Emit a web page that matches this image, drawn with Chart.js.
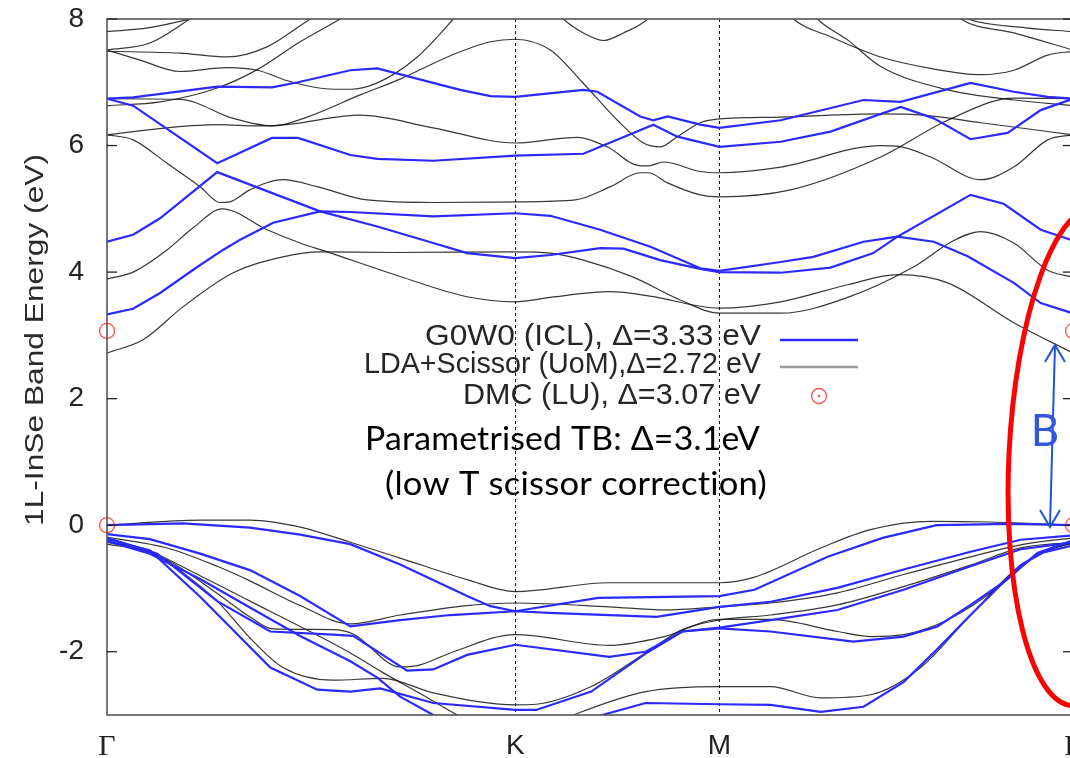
<!DOCTYPE html>
<html><head><meta charset="utf-8">
<script src="https://cdn.jsdelivr.net/npm/chart.js@4"></script>
<style>html,body{margin:0;padding:0;background:#fff;overflow:hidden;width:1070px;height:758px}canvas{display:block}</style>
</head><body><canvas id="c" width="1085" height="758"></canvas>
<script>
// ---- axis ----
const xTickVals = [0, 1, 1.5, 2.366];
const xTickLabels = ['Γ', 'K', 'M', 'Γ'];
const yTicks = [-2, 0, 2, 4, 6, 8];

// ---- LDA + scissor (UoM) bands : [k, E] ----
const ldaC1 = [[0,2.72],[0.088,2.93],[0.186,3.45],[0.309,3.99],[0.431,4.24],[0.522,4.32],[0.70,4.31],[1.0,4.32],[1.086,4.30],[1.167,4.19],[1.289,3.92],[1.404,3.56],[1.5,3.35],[1.65,3.35],[1.814,3.6],[1.975,4.08],[2.074,4.5],[2.140,4.64],[2.221,4.46],[2.304,4.03],[2.366,3.92]];
const ldaC2 = [[0,3.89],[0.064,4.0],[0.147,4.35],[0.211,4.7],[0.282,5.0],[0.392,4.67],[0.473,4.46],[0.539,4.32],[0.718,3.93],[0.882,3.61],[1.0,3.53],[1.086,3.6],[1.233,3.69],[1.33,3.62],[1.5,3.43],[1.65,3.53],[1.814,3.8],[1.936,3.96],[2.059,3.83],[2.221,3.2],[2.366,2.72]];
const ldaC3 = [[0,6.17],[0.064,6.09],[0.147,5.72],[0.228,5.35],[0.277,5.1],[0.301,5.11],[0.35,5.3],[0.431,5.46],[0.515,5.35],[0.637,5.14],[0.799,5.1],[1.0,5.11],[1.147,5.14],[1.233,5.35],[1.306,5.57],[1.326,5.57],[1.373,5.41],[1.453,5.22],[1.5,5.19],[1.674,5.3],[1.895,5.82],[2.059,6.4],[2.221,6.75],[2.366,6.74]];
const ldaC4 = [[0,6.17],[0.147,6.28],[0.27,6.33],[0.375,6.31],[0.441,6.33],[0.62,6.48],[0.799,6.28],[1.0,6.04],[1.152,6.13],[1.225,5.98],[1.306,5.68],[1.326,5.68],[1.363,5.74],[1.453,5.59],[1.5,5.57],[1.65,5.66],[1.895,6.0],[1.936,5.99],[2.017,5.82],[2.140,5.46],[2.221,5.66],[2.304,6.09],[2.366,6.17]];
const ldaC5 = [[0,6.74],[0.179,6.73],[0.309,6.43],[0.407,6.31],[0.49,6.45],[0.62,6.8],[0.718,7.05],[0.841,7.42],[0.939,7.64],[1.0,7.68],[1.086,7.51],[1.167,6.98],[1.25,6.4],[1.314,6.04],[1.355,5.98],[1.397,6.14],[1.453,6.36],[1.5,6.42],[1.65,6.45],[1.895,6.5],[2.0,6.48],[2.140,6.36],[2.366,6.17]];
const ldaC6a = [[0,6.63],[0.13,6.69],[0.27,6.91],[0.368,7.2],[0.473,7.64],[0.571,8.0],[0.62,8.2]];
const ldaC6b = [[1.71,8.25],[1.740,8.0],[1.814,7.67],[1.895,7.25],[2.059,6.88],[2.221,6.72],[2.366,6.63]];
const ldaC7 = [[0,7.51],[0.081,7.35],[0.179,7.17],[0.294,7.23],[0.368,7.19],[0.449,7.01],[0.554,6.89],[0.596,6.89],[0.662,6.99],[0.76,7.4],[0.848,8.0],[0.9,8.4]];
const ldaC8 = [[0,7.49],[0.179,7.46],[0.294,7.40],[0.392,7.56],[0.498,8.0],[0.55,8.2]];
const ldaC9 = [[0,7.80],[0.1,7.86],[0.203,8.0],[0.25,8.08]];
const ldaC10 = [[0,7.51],[0.105,7.62],[0.203,8.0],[0.25,8.2]];
const ldaC11 = [[1.08,8.3],[1.118,8.0],[1.167,7.78],[1.216,7.66],[1.265,7.78],[1.324,8.0],[1.36,8.3]];
const ldaC12 = [[1.65,8.25],[1.681,8.0],[1.772,7.72],[1.895,7.40],[2.017,7.22],[2.140,7.12],[2.221,7.19],[2.304,7.43],[2.366,7.49]];
const ldaC13 = [[2.06,8.2],[2.091,8.0],[2.221,7.78],[2.366,7.51]];
const ldaC14 = [[2.08,8.1],[2.108,8.0],[2.25,7.86],[2.366,7.80]];
const ldaV1 = [[0,0],[0.228,0.08],[0.35,0.08],[0.473,-0.03],[0.596,-0.27],[0.718,-0.52],[0.882,-0.86],[1.0,-1.05],[1.23,-0.91],[1.5,-0.91],[1.586,-0.82],[1.748,-0.36],[1.87,-0.07],[2.017,0.06],[2.164,0.05],[2.366,0]];
const ldaV2 = [[0,-0.19],[0.147,-0.36],[0.27,-0.65],[0.35,-0.88],[0.473,-1.27],[0.596,-1.56],[0.718,-1.42],[0.882,-1.27],[1.0,-1.23],[1.23,-1.29],[1.365,-1.34],[1.5,-1.29],[1.625,-1.23],[1.789,-1.07],[1.951,-0.78],[2.115,-0.5],[2.238,-0.31],[2.366,-0.2]];
const ldaV3 = [[0,-0.24],[0.147,-0.55],[0.27,-1.08],[0.35,-1.45],[0.407,-1.64],[0.554,-1.65],[0.603,-1.72],[0.718,-2.24],[0.76,-2.22],[0.841,-2.02],[1.0,-1.73],[1.23,-1.9],[1.365,-1.76],[1.5,-1.49],[1.625,-1.49],[1.789,-1.68],[1.87,-1.76],[1.951,-1.73],[2.034,-1.57],[2.115,-1.29],[2.196,-0.91],[2.279,-0.47],[2.366,-0.28]];
const ldaV4 = [[0,-0.27],[0.105,-0.4],[0.186,-0.75],[0.27,-1.2],[0.35,-1.78],[0.431,-2.25],[0.554,-2.45],[0.676,-2.42],[0.799,-2.65],[1.0,-2.84],[1.051,-2.83],[1.186,-2.55],[1.319,-2.02],[1.409,-1.65],[1.5,-1.5],[1.625,-1.42],[1.789,-1.26],[1.951,-0.97],[2.115,-0.63],[2.238,-0.36],[2.366,-0.27]];
const ldaV5 = [[0,-0.3],[0.105,-0.42],[0.228,-0.8],[0.35,-1.2],[0.473,-1.6],[0.596,-2.02],[0.676,-2.33],[0.767,-2.66],[0.858,-3.0],[1.0,-3.4],[1.142,-3.0],[1.319,-2.63],[1.5,-2.55],[1.625,-2.55],[1.748,-2.73],[1.870,-2.68],[1.993,-2.25],[2.115,-1.42],[2.238,-0.63],[2.319,-0.36],[2.366,-0.28]];

// ---- G0W0 (ICL) bands : [k, E] ----
const gwC1 = [[0,6.74],[0.064,6.76],[0.27,6.93],[0.404,6.92],[0.468,7.0],[0.596,7.19],[0.662,7.22],[0.865,6.88],[0.939,6.78],[1.0,6.77],[1.167,6.88],[1.201,6.85],[1.306,6.46],[1.338,6.40],[1.373,6.46],[1.453,6.33],[1.5,6.28],[1.65,6.40],[1.853,6.72],[1.944,6.69],[2.115,6.99],[2.221,6.85],[2.304,6.77],[2.366,6.74]];
const gwC2 = [[0,6.74],[0.064,6.63],[0.27,5.72],[0.404,6.12],[0.468,6.12],[0.596,5.85],[0.662,5.79],[0.799,5.76],[1.0,5.84],[1.167,5.87],[1.208,5.98],[1.338,6.33],[1.397,6.14],[1.5,5.98],[1.65,6.06],[1.772,6.22],[1.944,6.61],[2.025,6.43],[2.115,6.10],[2.206,6.2],[2.287,6.56],[2.366,6.74]];
const gwC3 = [[0,4.48],[0.064,4.59],[0.13,4.85],[0.27,5.58],[0.522,4.96],[0.662,4.72],[0.799,4.46],[0.882,4.30],[1.0,4.22],[1.086,4.27],[1.208,4.38],[1.265,4.37],[1.355,4.19],[1.453,4.05],[1.5,4.0],[1.65,3.99],[1.772,4.07],[1.877,4.3],[1.936,4.56],[2.025,4.48],[2.108,4.25],[2.221,3.83],[2.287,3.51],[2.36,3.36],[2.366,3.33]];
const gwC4 = [[0,3.33],[0.064,3.42],[0.13,3.67],[0.221,4.08],[0.284,4.35],[0.326,4.51],[0.407,4.78],[0.522,4.96],[0.596,4.95],[0.799,4.88],[1.0,4.93],[1.086,4.89],[1.208,4.67],[1.331,4.40],[1.453,4.06],[1.5,4.02],[1.65,4.16],[1.730,4.24],[1.853,4.48],[1.936,4.56],[2.115,5.22],[2.196,5.08],[2.287,4.67],[2.36,4.51],[2.366,4.48]];
const gwV1 = [[0,0],[0.186,0.03],[0.35,-0.04],[0.473,-0.15],[0.596,-0.3],[0.718,-0.62],[0.882,-1.12],[0.939,-1.28],[1.0,-1.36],[1.203,-1.15],[1.5,-1.12],[1.586,-1.02],[1.765,-0.5],[1.9,-0.2],[2.032,0],[2.211,0.02],[2.366,0]];
const gwV2 = [[0,-0.14],[0.105,-0.22],[0.228,-0.45],[0.35,-0.71],[0.473,-1.12],[0.596,-1.6],[0.718,-1.5],[0.841,-1.42],[1.0,-1.36],[1.098,-1.39],[1.346,-1.45],[1.5,-1.29],[1.625,-1.21],[1.789,-0.99],[1.951,-0.7],[2.115,-0.42],[2.238,-0.23],[2.366,-0.16]];
const gwV3 = [[0,-0.2],[0.123,-0.45],[0.27,-1.2],[0.4,-1.68],[0.554,-1.73],[0.603,-1.75],[0.735,-2.3],[0.799,-2.28],[0.882,-2.05],[1.0,-1.89],[1.23,-2.08],[1.319,-2.0],[1.409,-1.68],[1.5,-1.63],[1.625,-1.68],[1.828,-1.84],[1.951,-1.76],[2.034,-1.6],[2.115,-1.26],[2.196,-0.9],[2.279,-0.44],[2.366,-0.24]];
const gwV4 = [[0,-0.22],[0.105,-0.4],[0.228,-1.13],[0.4,-2.25],[0.515,-2.6],[0.596,-2.63],[0.669,-2.58],[0.799,-2.81],[1.0,-2.92],[1.051,-2.92],[1.186,-2.63],[1.319,-2.03],[1.409,-1.68],[1.5,-1.62],[1.625,-1.5],[1.789,-1.34],[1.951,-1.02],[2.115,-0.65],[2.238,-0.38],[2.366,-0.27]];
const gwV5 = [[0,-0.25],[0.105,-0.45],[0.228,-0.85],[0.35,-1.3],[0.473,-1.75],[0.596,-2.15],[0.662,-2.41],[0.718,-2.71],[0.799,-3.0],[1.0,-3.5],[1.213,-3.0],[1.319,-2.81],[1.5,-2.83],[1.625,-2.84],[1.748,-2.95],[1.853,-2.87],[1.951,-2.48],[2.032,-1.97],[2.115,-1.42],[2.238,-0.63],[2.294,-0.43],[2.366,-0.32]];

// ---- DMC (LU) points ----
const dmcK = [0, 0, 2.366, 2.366];
const dmcE = [3.07, 0, 3.07, 0];

// ---- legend / annotation texts ----
const legendTexts = ['G0W0 (ICL), Δ=3.33 eV', 'LDA+Scissor (UoM),Δ=2.72 eV', 'DMC (LU), Δ=3.07 eV'];
const noteLines = ['Parametrised TB: Δ=3.1eV', '(low T scissor correction)'];
const yTitle = '1L-InSe Band Energy (eV)';

const GW_COLOR = '#2a2aff', LDA_COLOR = 'rgba(20,20,20,0.85)', DMC_COLOR = '#ff5050';
const toXY = a => a.map(p => ({x: p[0], y: p[1]}));
const ldaBands = [ldaC1, ldaC2, ldaC3, ldaC4, ldaC5, ldaC6a, ldaC6b, ldaC7, ldaC8, ldaC9, ldaC10, ldaC11, ldaC12, ldaC13, ldaC14, ldaV1, ldaV2, ldaV3, ldaV4, ldaV5];
const gwBands = [gwC1, gwC2, gwC3, gwC4, gwV1, gwV2, gwV3, gwV4, gwV5];

const datasets = [];
datasets.push({data: dmcK.map((k, i) => ({x: k, y: dmcE[i]})), showLine: false, pointRadius: 7.5, pointBorderColor: DMC_COLOR, pointBackgroundColor: 'rgba(0,0,0,0)', pointBorderWidth: 1.3, order: 0, clip: false});
gwBands.forEach(b => datasets.push({data: toXY(b), borderColor: GW_COLOR, borderWidth: 2.2, tension: 0, pointRadius: 0, order: 1}));
ldaBands.forEach(b => datasets.push({data: toXY(b), borderColor: LDA_COLOR, borderWidth: 1.2, cubicInterpolationMode: 'monotone', pointRadius: 0, order: 2}));

function fitText(ctx, text, x, y, w, align) {
  const m = ctx.measureText(text).width;
  ctx.save();
  ctx.translate(align === 'right' ? x - w : x, y);
  ctx.scale(w / m, 1);
  ctx.textAlign = 'left';
  ctx.fillText(text, 0, 0);
  ctx.restore();
}

const decor = {
  id: 'decor',
  beforeDatasetsDraw(chart) {
    const {ctx, chartArea: a, scales: {x}} = chart;
    ctx.save();
    ctx.strokeStyle = '#111'; ctx.lineWidth = 1; ctx.setLineDash([3, 3]);
    [1, 1.5].forEach(v => {
      const px = Math.round(x.getPixelForValue(v)) + 0.5;
      ctx.beginPath(); ctx.moveTo(px, a.top); ctx.lineTo(px, a.bottom); ctx.stroke();
    });
    ctx.restore();
  },
  afterDatasetsDraw(chart) {
    const {ctx, chartArea: a, scales: {y}} = chart;
    ctx.save();
    ctx.strokeStyle = '#555'; ctx.lineWidth = 1.6;
    ctx.strokeRect(a.left, a.top, a.right - a.left, a.bottom - a.top);
    ctx.strokeStyle = '#222'; ctx.lineWidth = 1.3;
    yTicks.forEach(v => {
      const py = y.getPixelForValue(v);
      ctx.beginPath(); ctx.moveTo(a.left, py); ctx.lineTo(a.left + 10, py); ctx.stroke();
      ctx.beginPath(); ctx.moveTo(a.right, py); ctx.lineTo(a.right - 10, py); ctx.stroke();
    });
    ctx.fillStyle = '#2a2a2a';
    ctx.font = '26px "Liberation Sans", Arial, sans-serif';
    ctx.textBaseline = 'middle';
    ctx.save(); ctx.translate(36, 340); ctx.rotate(-Math.PI / 2);
    fitText(ctx, yTitle, -186, 0, 372, 'left');
    ctx.restore();
    ctx.font = '29px "Liberation Sans", Arial, sans-serif';
    ctx.fillStyle = '#262626';
    const rows = [337, 365, 396];
    const widths = [336, 397, 298];
    legendTexts.forEach((t, i) => fitText(ctx, t, 761, rows[i], widths[i], 'right'));
    ctx.lineWidth = 2.5;
    ctx.strokeStyle = GW_COLOR; ctx.beginPath(); ctx.moveTo(780, 340); ctx.lineTo(858, 340); ctx.stroke();
    ctx.strokeStyle = '#9a9a9a'; ctx.beginPath(); ctx.moveTo(780, 367); ctx.lineTo(858, 367); ctx.stroke();
    ctx.strokeStyle = DMC_COLOR; ctx.lineWidth = 1.3;
    ctx.beginPath(); ctx.arc(819, 396, 7.5, 0, Math.PI * 2); ctx.stroke();
    ctx.fillStyle = DMC_COLOR; ctx.beginPath(); ctx.arc(819, 396, 1.3, 0, Math.PI * 2); ctx.fill();
    ctx.fillStyle = '#000';
    ctx.font = '32px Lato, "Open Sans", sans-serif';
    if ('letterSpacing' in ctx) ctx.letterSpacing = '0.2px';
    fitText(ctx, noteLines[0], 365, 440, 395, 'left');
    fitText(ctx, noteLines[1], 385, 485, 382, 'left');
    if ('letterSpacing' in ctx) ctx.letterSpacing = '0px';
    ctx.strokeStyle = '#1e55d6'; ctx.lineWidth = 2;
    ctx.beginPath(); ctx.moveTo(1055, 345); ctx.lineTo(1050, 527); ctx.stroke();
    ctx.beginPath(); ctx.moveTo(1045, 362); ctx.lineTo(1055, 345); ctx.lineTo(1065, 362); ctx.stroke();
    ctx.beginPath(); ctx.moveTo(1040, 510); ctx.lineTo(1050, 527); ctx.lineTo(1060, 510); ctx.stroke();
    ctx.fillStyle = '#3355e0';
    ctx.font = '44px Lato, "Open Sans", sans-serif';
    ctx.textAlign = 'center';
    ctx.fillText('B', 1045, 432);
    ctx.strokeStyle = '#ff0000'; ctx.lineWidth = 5;
    ctx.beginPath(); ctx.ellipse(1085, 456, 76, 250, 0.05, 0, Math.PI * 2); ctx.stroke();
    ctx.restore();
  }
};

new Chart(document.getElementById('c'), {
  type: 'line',
  data: {datasets},
  options: {
    responsive: false, animation: false, devicePixelRatio: 1,
    layout: {padding: {top: 19, right: 12, bottom: 0, left: 0}},
    plugins: {legend: {display: false}, tooltip: {enabled: false}},
    scales: {
      x: {
        type: 'linear', min: 0, max: 2.366,
        grid: {display: false}, border: {display: false},
        afterBuildTicks: s => { s.ticks = xTickVals.map(v => ({value: v})); },
        afterFit: s => { s.height = 43; s.paddingLeft = 0; s.paddingRight = 0; },
        ticks: {
          autoSkip: false, maxRotation: 0, padding: 6, color: '#222',
          font: c => (c.index === 0 || c.index === 3) ? {family: '"Liberation Serif", serif', size: 30} : {family: '"Liberation Sans", Arial, sans-serif', size: 28},
          callback: (v, i) => xTickLabels[i]
        }
      },
      y: {
        type: 'linear', min: -3, max: 8,
        grid: {display: false}, border: {display: false},
        afterBuildTicks: s => { s.ticks = yTicks.map(v => ({value: v})); },
        afterFit: s => { s.width = 107; s.paddingTop = 0; s.paddingBottom = 0; },
        ticks: {padding: 15, color: '#222', font: {family: '"Liberation Sans", Arial, sans-serif', size: 28}}
      }
    }
  },
  plugins: [decor]
});
</script>
</body></html>
